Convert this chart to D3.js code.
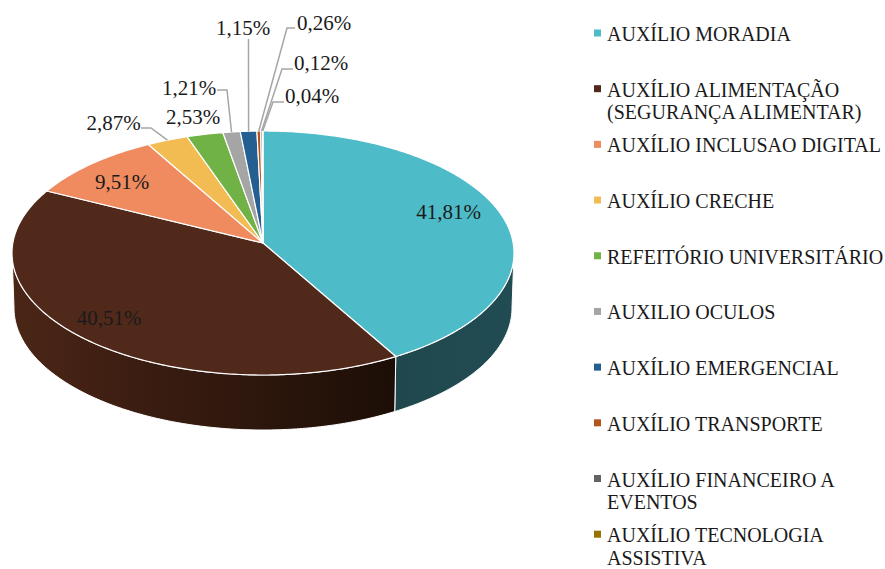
<!DOCTYPE html>
<html>
<head>
<meta charset="utf-8">
<script src="https://cdn.jsdelivr.net/npm/d3@7"></script>
<style>
  html, body { margin: 0; background: #fff; }
  text { font-family: "Liberation Serif", serif; fill: #1a1a1a; }
</style>
</head>
<body>
<svg id="chart" width="885" height="569"></svg>
<script>
const categories = [
  "AUXÍLIO MORADIA",
  "AUXÍLIO ALIMENTAÇÃO|(SEGURANÇA ALIMENTAR)",
  "AUXÍLIO INCLUSAO DIGITAL",
  "AUXÍLIO CRECHE",
  "REFEITÓRIO UNIVERSITÁRIO",
  "AUXILIO OCULOS",
  "AUXÍLIO EMERGENCIAL",
  "AUXÍLIO TRANSPORTE",
  "AUXÍLIO FINANCEIRO A|EVENTOS",
  "AUXÍLIO TECNOLOGIA|ASSISTIVA"
];
const values = [41.81, 40.51, 9.51, 2.87, 2.53, 1.21, 1.15, 0.26, 0.12, 0.04];
const colors = ["#4ebbc8", "#50291b", "#ef8b5f", "#f2bc52", "#70b245", "#a5a5a5", "#255e91", "#b4531a", "#636363", "#997300"];

// label placement by slice index, leader = elbow points towards the slice
const labelPos = [
  { x: 448.5, y: 219 },
  { x: 109, y: 325 },
  { x: 122, y: 189 },
  { x: 113.5, y: 130, leader: [[141, 128], [151, 128]] },
  { x: 193, y: 124 },
  { x: 189, y: 95, leader: [[217, 90], [227, 90]] },
  { x: 243, y: 35, leader: [[248.5, 39]] },
  { x: 324, y: 30, leader: [[295, 28], [287, 28]] },
  { x: 321, y: 70, leader: [[293, 69], [282, 69]] },
  { x: 312, y: 103, leader: [[284, 102], [273, 102]] }
];

const svg = d3.select("#chart");

// ellipse of the tilted disc
const cx = 263, cy = 253, rx = 251, ry = 122;
const depth = 55, rxBottom = 249;
const apex = [263, 243];   // where the spokes meet, perspective moves it up from the ellipse centre
const k = 0.92;            // perspective squeeze of the angles

const pie = d3.pie().sort(null).value(d => d);
const arcs = pie(values);

// true pie angle -> angle on the drawn ellipse
function warp(a) {
  const turns = Math.floor((a + Math.PI) / (2 * Math.PI));
  const rest = a - turns * 2 * Math.PI;
  return 2 * Math.atan(k * Math.tan(rest / 2)) + turns * 2 * Math.PI;
}
const topPt = a => [cx + rx * Math.sin(a), cy - ry * Math.cos(a)];
const botPt = a => [cx + rxBottom * Math.sin(a), cy + depth - ry * Math.cos(a)];
const line = d3.line();

function along(fn, a0, a1) {
  const n = Math.max(2, Math.ceil(Math.abs(a1 - a0) * 80));
  return d3.range(n + 1).map(i => fn(a0 + (a1 - a0) * i / n));
}

// gradients for the side walls
const defs = svg.append("defs");
const gradStops = [
  { id: "wall0", x1: 394, x2: 514, stops: ["#20474e", "#214c53"] },
  { id: "wall1", x1: 12, x2: 394, stops: ["#4b2617", "#3b1d11", "#2c160c", "#1c0e06"] }
];
gradStops.forEach(g => {
  const lg = defs.append("linearGradient").attr("id", g.id)
    .attr("gradientUnits", "userSpaceOnUse")
    .attr("x1", g.x1).attr("x2", g.x2).attr("y1", 0).attr("y2", 0);
  g.stops.forEach((c, i) => lg.append("stop").attr("offset", i / (g.stops.length - 1)).attr("stop-color", c));
});

// side walls, only the slices that reach the front half
const front0 = Math.PI / 2, front1 = 3 * Math.PI / 2;
arcs.forEach((d, i) => {
  const a0 = Math.max(warp(d.startAngle), front0), a1 = Math.min(warp(d.endAngle), front1);
  if (a1 <= a0) return;
  const pts = along(topPt, a0, a1).concat(along(botPt, a1, a0));
  svg.append("path")
    .attr("d", line(pts) + "Z")
    .attr("fill", i < 2 ? `url(#wall${i})` : d3.color(colors[i]).darker(1.5))
    .attr("stroke", "#fff").attr("stroke-width", 1);
});

// top of the disc
svg.append("g").selectAll("path")
  .data(arcs)
  .join("path")
  .attr("d", d => line([apex].concat(along(topPt, warp(d.startAngle), warp(d.endAngle)))) + "Z")
  .attr("fill", (d, i) => colors[i])
  .attr("stroke", "#fff")
  .attr("stroke-width", 1.2)
  .attr("stroke-linejoin", "round");

// leader lines
arcs.forEach((d, i) => {
  const p = labelPos[i];
  if (!p.leader) return;
  const end = topPt(warp((d.startAngle + d.endAngle) / 2));
  svg.append("path")
    .attr("d", line(p.leader.concat([end])))
    .attr("fill", "none")
    .attr("stroke", "#a6a6a6")
    .attr("stroke-width", 1.5);
});

// value labels
svg.append("g").selectAll("text")
  .data(values)
  .join("text")
  .attr("x", (d, i) => labelPos[i].x)
  .attr("y", (d, i) => labelPos[i].y)
  .attr("text-anchor", "middle")
  .attr("font-size", 21)
  .text(d => d.toFixed(2).replace(".", ",") + "%");

// legend
const legendY = d3.scaleLinear().domain([0, categories.length - 1]).range([33, 534.2]);
const legend = svg.append("g").selectAll("g")
  .data(categories)
  .join("g")
  .attr("transform", (d, i) => `translate(0,${legendY(i)})`);

legend.append("rect")
  .attr("x", 594).attr("y", -3.5)
  .attr("width", 7).attr("height", 7)
  .attr("fill", (d, i) => colors[i]);

legend.each(function (d) {
  d.split("|").forEach((t, j) => {
    d3.select(this).append("text")
      .attr("x", 607).attr("y", 8 + j * 22.4)
      .attr("font-size", 20)
      .text(t);
  });
});
</script>
</body>
</html>
